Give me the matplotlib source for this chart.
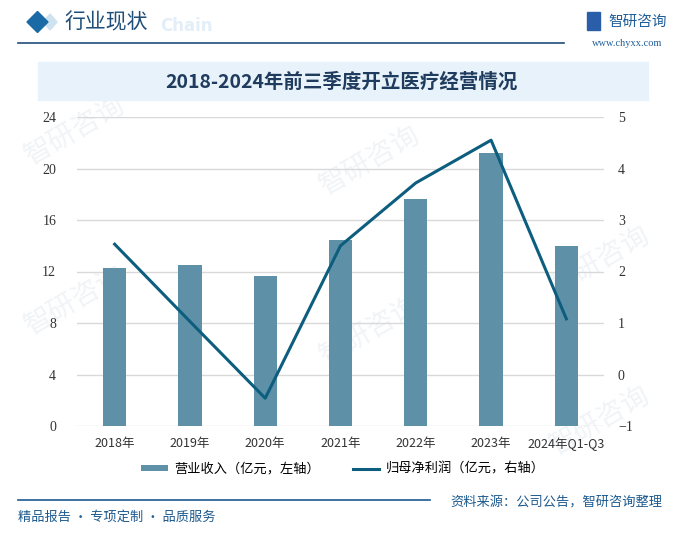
import matplotlib.pyplot as plt
from matplotlib.patches import Polygon, Rectangle
from matplotlib.lines import Line2D

plt.rcParams['font.family'] = ['Noto Sans CJK SC', 'DejaVu Sans']

years = ['2018年', '2019年', '2020年', '2021年', '2022年', '2023年', '2024年Q1-Q3']
revenue = [12.27, 12.5, 11.65, 14.45, 17.63, 21.2, 13.98]
profit = [2.53, 1.03, -0.46, 2.50, 3.72, 4.55, 1.08]

bar_color = '#5e91a8'
line_color = '#0d5e7e'
navy = '#1d5a8e'

fig = plt.figure(figsize=(6.76, 5.34), dpi=100)
W, H = 676, 534

def fx(x): return x / W
def fy(y): return 1 - y / H

# faint watermarks behind everything
for (x, y) in [(75, 130), (75, 300), (370, 160), (370, 330), (600, 260), (600, 420)]:
    fig.text(fx(x), fy(y), '智研咨询', fontsize=20, color='#f1f4f7', rotation=30,
             ha='center', va='center', zorder=-5)

# header
fig.patches.append(Polygon([(fx(43), fy(22)), (fx(50), fy(14)), (fx(57), fy(22)), (fx(50), fy(30))],
                           closed=True, transform=fig.transFigure, color='#cfe2f0', zorder=1))
fig.patches.append(Polygon([(fx(27), fy(22)), (fx(37.5), fy(11.5)), (fx(48), fy(22)), (fx(37.5), fy(32.5))],
                           closed=True, transform=fig.transFigure, color='#1a6aa5', zorder=2))
fig.text(fx(160), fy(26), 'Chain', fontsize=12, color='#e3eef8', fontweight='bold',
         ha='left', va='center', family='DejaVu Sans', zorder=1)
fig.text(fx(64), fy(22), '行业现状', fontsize=15, color='#1f4e79', ha='left', va='center', zorder=3)
fig.lines.append(Line2D([fx(18), fx(564)], [fy(43), fy(43)], transform=fig.transFigure,
                        color='#1f4e79', lw=1.2))
# logo
fig.patches.append(Rectangle((fx(587), fy(30)), 13 / W, 18 / H, transform=fig.transFigure,
                             color='#2a5ea8', zorder=2))
fig.text(fx(608), fy(22), '智研咨询', fontsize=10.5, color='#1f5f99', ha='left', va='center')
fig.text(fx(662), fy(43), 'www.chyxx.com', fontsize=7.5, color='#1f5f99', ha='right', va='center',
         family='Liberation Serif')

# title box
fig.patches.append(Rectangle((fx(38), fy(100)), 610 / W, 38 / H, transform=fig.transFigure,
                             color='#e8f2fa', zorder=1))
fig.text(fx(341), fy(82), '2018-2024年前三季度开立医疗经营情况', fontsize=14, color='#1f3c5e',
         ha='center', va='center', fontweight='bold', zorder=3)

# main chart
ax = fig.add_axes([fx(77), fy(426), (604 - 77) / W, (426 - 117) / H])
ax.patch.set_alpha(0)
x = range(len(years))
ax.bar(x, revenue, width=0.31, color=bar_color, zorder=2, label='营业收入（亿元，左轴）')
ax.set_ylim(0, 24)
ax.set_yticks(range(0, 25, 4))
ax.set_xlim(-0.5, len(years) - 0.5)
ax.set_xticks(list(x))
ax.set_xticklabels(years, fontsize=9, color='#333333')
ax.grid(axis='y', color='#d9d9d9', lw=1, zorder=0)
for s in ax.spines.values():
    s.set_visible(False)
ax.tick_params(axis='both', length=0)
ax.tick_params(axis='x', pad=8)
ax.tick_params(axis='y', pad=15)
for t in ax.get_yticklabels():
    t.set_family('Liberation Serif')
    t.set_fontsize(10)
    t.set_color('#333333')

ax2 = ax.twinx()
ax2.plot(list(x), profit, color=line_color, lw=2.2, zorder=3, label='归母净利润（亿元，右轴）')
ax2.set_ylim(-1, 5)
ax2.set_yticks(range(-1, 6))
for s in ax2.spines.values():
    s.set_visible(False)
ax2.tick_params(axis='y', length=0, pad=10)
for t in ax2.get_yticklabels():
    t.set_family('Liberation Serif')
    t.set_fontsize(10)
    t.set_color('#333333')

h1, l1 = ax.get_legend_handles_labels()
h2, l2 = ax2.get_legend_handles_labels()
fig.legend(h1 + h2, l1 + l2, loc='center', bbox_to_anchor=(fx(343), fy(469)), ncol=2,
           frameon=False, fontsize=9.5, handlelength=2.0, handleheight=0.4, columnspacing=2.5,
           handletextpad=0.5)

# footer
fig.lines.append(Line2D([fx(18), fx(430)], [fy(500), fy(500)], transform=fig.transFigure,
                        color=navy, lw=1.2))
fig.text(fx(662), fy(503), '资料来源：公司公告，智研咨询整理', fontsize=9.5, color=navy,
         ha='right', va='center')
fig.text(fx(18), fy(517), '精品报告 · 专项定制 · 品质服务', fontsize=9.5, color=navy,
         ha='left', va='center')

fig.savefig('out.png', dpi=100)
